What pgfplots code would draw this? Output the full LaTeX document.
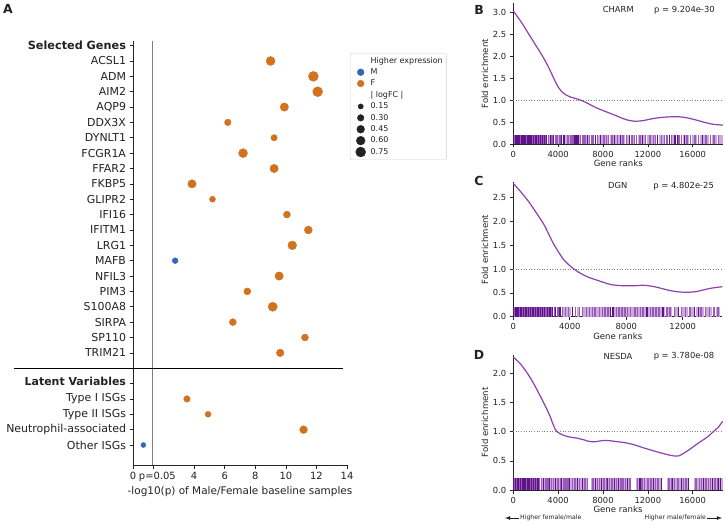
\documentclass[border=0pt]{standalone}
\usepackage{pgfplots}
\pgfplotsset{compat=1.18}
\usepackage{fontspec}
\setmainfont{DejaVu Sans}
\definecolor{mor}{HTML}{D2721F}
\definecolor{mbl}{HTML}{3465BA}
\definecolor{cur}{HTML}{8E3FB0}
\definecolor{rd}{HTML}{5E1487}
\definecolor{rm}{HTML}{9A5AB8}
\definecolor{rl}{HTML}{CDAADC}
\definecolor{txt}{HTML}{222222}
\tikzset{ann/.style={font=\fontsize{8.4}{9.6}\selectfont, text=txt}}
\begin{document}
\begin{tikzpicture}
\useasboundingbox (0,0) rectangle (726bp,525bp);
\pgfplotsset{
  every axis/.append style={scale only axis, /pgf/number format/assume math mode=true,
    tick align=outside, axis line style={black!85}, major tick length=3.5bp,
    tick style={black!85, line width=0.6bp}, clip=false, anchor=south west},
  rug/.style={ycomb, forget plot},
  fe/.style={axis x line*=bottom, axis y line*=left, ymin=0,
    ticklabel style={font=\fontsize{8.4}{9.6}\selectfont, text=txt},
    label style={font=\fontsize{8.6}{10}\selectfont, text=txt},
    xlabel={Gene ranks}, ylabel={Fold enrichment},
    scaled x ticks=false,
    xticklabel style={/pgf/number format/.cd, fixed, 1000 sep={}},
    yticklabel style={/pgf/number format/.cd, fixed, fixed zerofill, precision=1},
    xlabel style={yshift=4bp}, ylabel style={yshift=-2bp}},
  scat/.style={scatter, only marks, mark=*, forget plot,
    scatter/use mapped color={draw=#1, fill=#1},
    visualization depends on={\thisrow{r} \as \rr},
    scatter/@pre marker code/.append style={/tikz/mark size=\rr}},
}
\node[font=\bfseries\fontsize{12.5}{13}\selectfont, text=txt] at (8bp,516bp) {A};
\node[font=\bfseries\fontsize{12.5}{13}\selectfont, text=txt] at (479bp,515bp) {B};
\node[font=\bfseries\fontsize{12.5}{13}\selectfont, text=txt] at (479bp,344bp) {C};
\node[font=\bfseries\fontsize{12.5}{13}\selectfont, text=txt] at (479bp,170bp) {D};

% ---------------- Panel A ----------------
\begin{axis}[at={(133bp,60bp)}, width=214bp, height=424bp,
  axis x line*=bottom, axis y line*=left,
  xmin=0, xmax=14, ymin=-0.3, ymax=27.3, y dir=reverse,
  xtick={0,1.301,4,6,8,10,12,14}, xticklabels={0,\hspace*{9bp}p=0.05,4,6,8,10,12,14},
  ytick={0,1,...,20,22,23,24,25,26},
  yticklabels={{\bfseries\fontsize{11.3}{12}\selectfont Selected Genes},ACSL1,ADM,AIM2,AQP9,DDX3X,DYNLT1,FCGR1A,FFAR2,FKBP5,GLIPR2,IFI16,IFITM1,LRG1,MAFB,NFIL3,PIM3,S100A8,SIRPA,SP110,TRIM21,{\raisebox{5bp}{\bfseries\fontsize{11}{12}\selectfont Latent Variables}},Type I ISGs,Type II ISGs,Neutrophil-associated,Other ISGs},
  yticklabel style={font=\fontsize{11}{13}\selectfont, text=txt},
  xticklabel style={font=\fontsize{10}{12}\selectfont, text=txt},
  xlabel={-log10(p) of Male/Female baseline samples},
  xlabel style={font=\fontsize{10.5}{12}\selectfont, text=txt, yshift=2bp},
  legend style={at={(1.014,0.972)}, anchor=north west, draw=black!18, rounded corners=1.5bp,
    font=\fontsize{8}{8.5}\selectfont, text=txt, cells={anchor=west}, row sep=0pt, inner sep=2bp,
    /tikz/every odd column/.append style={column sep=3bp}},
]
\addplot[gray, line width=0.9bp, forget plot] coordinates {(1.301,-0.3) (1.301,27.3)};
\addplot[black, line width=0.9bp, forget plot] coordinates {(-7.76,21) (13.75,21)};
\addplot[scat=mor] table {
x y r
9.00 1 4.5
11.80 2 5.0
12.08 3 5.0
9.90 4 4.2
6.20 5 3.3
9.23 6 3.2
7.20 7 4.5
9.23 8 4.2
3.86 9 4.2
5.20 10 3.0
10.07 11 3.5
11.47 12 4.0
10.42 13 4.4
9.56 15 4.2
7.48 16 3.5
9.14 17 4.6
6.53 18 3.5
11.25 19 3.5
9.63 20 3.8
3.53 23 3.3
4.91 24 3.0
11.16 25 3.9
};
\addplot[scat=mbl] table {
x y r
2.76 14 2.9
0.68 26 2.5
};
\addlegendimage{empty legend}\addlegendentry{Higher expression}
\addlegendimage{only marks, mark=*, mark size=3.4, mbl}\addlegendentry{M}
\addlegendimage{only marks, mark=*, mark size=3.4, mor}\addlegendentry{F}
\addlegendimage{empty legend}\addlegendentry{| logFC |}
\addlegendimage{only marks, mark=*, mark size=2.6, txt}\addlegendentry{0.15}
\addlegendimage{only marks, mark=*, mark size=3.3, txt}\addlegendentry{0.30}
\addlegendimage{only marks, mark=*, mark size=3.9, txt}\addlegendentry{0.45}
\addlegendimage{only marks, mark=*, mark size=4.4, txt}\addlegendentry{0.60}
\addlegendimage{only marks, mark=*, mark size=5.0, txt}\addlegendentry{0.75}
\end{axis}

% ---------------- Panel B ----------------
\begin{axis}[fe, at={(513.3bp,381bp)}, width=210bp, height=140.5bp,
  xmin=0, xmax=18730, ymax=3.2, xtick={0,4000,8000,12000,16000}, ytick={0,0.5,...,3.0}]
\addplot[rug, rl, line width=2bp] coordinates {(3200,.2)(3500,.2)(4000,.2)(4700,.2)(5000,.2)(5950,.2)(6300,.2)(6500,.2)(6700,.2)(7600,.2)(7900,.2)(8200,.2)(8400,.2)(8700,.2)(8900,.2)(9200,.2)(9400,.2)(9700,.2)(9900,.2)(10200,.2)(10300,.2)(10700,.2)(11200,.2)(11400,.2)(11700,.2)(12000,.2)(12100,.2)(12400,.2)(12600,.2)(13100,.2)(13300,.2)(13400,.2)(14200,.2)(15200,.2)(15400,.2)(15600,.2)(16000,.2)(16100,.2)(16300,.2)(16700,.2)(17000,.2)(17400,.2)(17800,.2)(18100,.2)(18400,.2)(18600,.2)};
\addplot[rug, rm, line width=1.5bp] coordinates {(120,.2)(250,.2)(380,.2)(500,.2)(640,.2)(760,.2)(900,.2)(1030,.2)(1180,.2)(1330,.2)(1460,.2)(1590,.2)(1730,.2)(1880,.2)(2030,.2)(2170,.2)(2330,.2)(2500,.2)(2700,.2)(2900,.2)(3150,.2)(3450,.2)(3750,.2)(3900,.2)(4100,.2)(4200,.2)(4900,.2)(5100,.2)(5250,.2)(5400,.2)(6000,.2)(6200,.2)(6400,.2)(6800,.2)(7000,.2)(7100,.2)(7500,.2)(8100,.2)(8300,.2)(8500,.2)(8800,.2)(9300,.2)(9800,.2)(10100,.2)(10600,.2)(10800,.2)(11000,.2)(11300,.2)(11800,.2)(12200,.2)(12500,.2)(12700,.2)(13200,.2)(13500,.2)(13700,.2)(14100,.2)(14800,.2)(15000,.2)(15500,.2)(15800,.2)(16200,.2)(16500,.2)(17200,.2)(17600,.2)(17900,.2)(18300,.2)};
\addplot[rug, rd, line width=1.1bp] coordinates {(50,.2)(180,.2)(300,.2)(420,.2)(560,.2)(700,.2)(830,.2)(950,.2)(1100,.2)(1250,.2)(1400,.2)(1520,.2)(1650,.2)(1800,.2)(1950,.2)(2100,.2)(2250,.2)(2400,.2)(2600,.2)(2800,.2)(3000,.2)(3300,.2)(3600,.2)(4300,.2)(4450,.2)(4600,.2)(5500,.2)(5600,.2)(5700,.2)(5800,.2)(6600,.2)(7300,.2)(7800,.2)(9000,.2)(9600,.2)(10400,.2)(11500,.2)(12900,.2)(13900,.2)(14400,.2)(14500,.2)(14650,.2)(15300,.2)(16900,.2)};
\addplot[gray, dotted, line width=0.6bp, forget plot] coordinates {(0,1) (18730,1)};
\addplot[cur, line width=1.2bp, smooth, tension=0.55] coordinates {(0,3.03)(700,2.78)(1338,2.52)(2000,2.25)(2676,1.97)(3200,1.72)(3600,1.50)(4000,1.30)(4450,1.16)(5000,1.08)(5500,1.04)(6000,1.00)(6600,0.93)(7440,0.82)(8626,0.70)(9400,0.62)(10113,0.55)(10800,0.52)(11500,0.53)(12500,0.58)(13400,0.61)(14400,0.62)(15200,0.61)(16100,0.56)(16952,0.50)(17800,0.45)(18700,0.43)};
\node[ann] at (rel axis cs:0.50,0.955) {CHARM};
\node[ann] at (rel axis cs:0.815,0.955) {p = 9.204e-30};
\end{axis}

% ---------------- Panel C ----------------
\begin{axis}[fe, at={(513.3bp,208.3bp)}, width=209bp, height=134.2bp,
  xmin=0, xmax=14800, ymax=2.82, xtick={0,4000,8000,12000}, ytick={0,0.5,...,2.5}]
\addplot[rug, rl, line width=2bp] coordinates {(3600,.2)(3800,.2)(4000,.2)(4600,.2)(5000,.2)(5100,.2)(5300,.2)(5500,.2)(5700,.2)(5900,.2)(6000,.2)(6200,.2)(6400,.2)(6600,.2)(6800,.2)(7200,.2)(7400,.2)(7600,.2)(7800,.2)(8000,.2)(8200,.2)(8400,.2)(8500,.2)(8700,.2)(8900,.2)(9100,.2)(9300,.2)(9600,.2)(9800,.2)(10000,.2)(10200,.2)(10400,.2)(10500,.2)(10700,.2)(11000,.2)(11200,.2)(11500,.2)(11600,.2)(12000,.2)(12100,.2)(12300,.2)(12600,.2)(12700,.2)(13000,.2)(13200,.2)(13400,.2)(13700,.2)(13800,.2)(14000,.2)(14400,.2)(14600,.2)};
\addplot[rug, rm, line width=1.5bp] coordinates {(100,.2)(210,.2)(320,.2)(430,.2)(540,.2)(660,.2)(780,.2)(900,.2)(1020,.2)(1140,.2)(1270,.2)(1400,.2)(1530,.2)(1680,.2)(1830,.2)(1980,.2)(2130,.2)(2300,.2)(2500,.2)(2700,.2)(2900,.2)(3150,.2)(3500,.2)(3700,.2)(3900,.2)(4400,.2)(4700,.2)(4900,.2)(5200,.2)(5400,.2)(5600,.2)(5800,.2)(6100,.2)(6300,.2)(6500,.2)(6700,.2)(7300,.2)(7500,.2)(7700,.2)(7900,.2)(8100,.2)(8300,.2)(8600,.2)(8800,.2)(9000,.2)(9200,.2)(9700,.2)(9900,.2)(10100,.2)(10300,.2)(10900,.2)(11100,.2)(11400,.2)(11900,.2)(12200,.2)(12500,.2)(13300,.2)(13600,.2)(13900,.2)(14200,.2)(14500,.2)};
\addplot[rug, rd, line width=1.1bp] coordinates {(40,.2)(150,.2)(260,.2)(370,.2)(480,.2)(600,.2)(720,.2)(840,.2)(960,.2)(1080,.2)(1200,.2)(1330,.2)(1460,.2)(1600,.2)(1750,.2)(1900,.2)(2050,.2)(2200,.2)(2400,.2)(2600,.2)(2800,.2)(3000,.2)(3300,.2)(3350,.2)(4200,.2)(6900,.2)(7000,.2)(7100,.2)(9400,.2)(9500,.2)(10600,.2)(11700,.2)(12800,.2)(13100,.2)};
\addplot[gray, dotted, line width=0.6bp, forget plot] coordinates {(0,1) (14800,1)};
\addplot[cur, line width=1.2bp, smooth, tension=0.55] coordinates {(0,2.80)(600,2.60)(1180,2.38)(1700,2.15)(2125,1.96)(2500,1.74)(2833,1.54)(3200,1.36)(3541,1.21)(3900,1.10)(4249,1.01)(4600,0.94)(4957,0.88)(5400,0.82)(5901,0.77)(6400,0.72)(6846,0.68)(7300,0.66)(7790,0.65)(8500,0.65)(9206,0.66)(9700,0.645)(10150,0.62)(10600,0.585)(11095,0.55)(11600,0.525)(12039,0.515)(12500,0.515)(12983,0.53)(13500,0.565)(13928,0.595)(14400,0.615)(14800,0.63)};
\node[ann] at (rel axis cs:0.50,0.975) {DGN};
\node[ann] at (rel axis cs:0.815,0.975) {p = 4.802e-25};
\end{axis}

% ---------------- Panel D ----------------
\begin{axis}[fe, at={(513.3bp,35bp)}, width=209.4bp, height=135.3bp,
  xmin=0, xmax=18680, ymax=2.32, xtick={0,4000,8000,12000,16000}, ytick={0,0.5,...,2.0}]
\addplot[rug, rl, line width=2bp] coordinates {(2600,.2)(2800,.2)(3000,.2)(3300,.2)(3500,.2)(3700,.2)(3900,.2)(4100,.2)(4400,.2)(4600,.2)(4800,.2)(5100,.2)(5200,.2)(5400,.2)(5600,.2)(5800,.2)(6000,.2)(6100,.2)(6300,.2)(6500,.2)(7000,.2)(7200,.2)(7400,.2)(7600,.2)(7800,.2)(8000,.2)(8200,.2)(8500,.2)(8700,.2)(8900,.2)(9100,.2)(9300,.2)(9500,.2)(9700,.2)(9900,.2)(10100,.2)(10300,.2)(11000,.2)(11200,.2)(11400,.2)(11600,.2)(11800,.2)(12100,.2)(12200,.2)(12400,.2)(12600,.2)(12800,.2)(13000,.2)(13100,.2)(13800,.2)(14000,.2)(14300,.2)(14500,.2)(14600,.2)(14800,.2)(14900,.2)(15100,.2)(15300,.2)(15500,.2)(16200,.2)(16400,.2)(16500,.2)(16700,.2)(16900,.2)(17100,.2)(17300,.2)(17500,.2)(17700,.2)(17900,.2)(18100,.2)(18400,.2)(18600,.2)};
\addplot[rug, rm, line width=1.5bp] coordinates {(120,.2)(270,.2)(420,.2)(570,.2)(720,.2)(870,.2)(1020,.2)(1170,.2)(1330,.2)(1500,.2)(1700,.2)(1900,.2)(2100,.2)(2350,.2)(2500,.2)(2900,.2)(3100,.2)(3400,.2)(3600,.2)(4000,.2)(4200,.2)(4500,.2)(4700,.2)(4900,.2)(5300,.2)(5500,.2)(5900,.2)(6400,.2)(6600,.2)(7100,.2)(7500,.2)(7700,.2)(8100,.2)(8300,.2)(8600,.2)(8800,.2)(9200,.2)(9600,.2)(9800,.2)(10000,.2)(10400,.2)(11100,.2)(11500,.2)(11700,.2)(12000,.2)(12300,.2)(12700,.2)(12900,.2)(13900,.2)(14100,.2)(14400,.2)(14700,.2)(15200,.2)(15400,.2)(16300,.2)(16600,.2)(16800,.2)(17200,.2)(17400,.2)(17600,.2)(18000,.2)(18200,.2)};
\addplot[rug, rd, line width=1.1bp] coordinates {(50,.2)(200,.2)(350,.2)(500,.2)(650,.2)(800,.2)(950,.2)(1100,.2)(1250,.2)(1400,.2)(1600,.2)(1800,.2)(2000,.2)(2200,.2)(2700,.2)(3200,.2)(3800,.2)(4300,.2)(5000,.2)(5700,.2)(6200,.2)(7300,.2)(7900,.2)(8400,.2)(9000,.2)(9400,.2)(10200,.2)(11300,.2)(12500,.2)(13200,.2)(14200,.2)(15000,.2)(15600,.2)(17000,.2)(17800,.2)(18300,.2)(18500,.2)};
\addplot[gray, dotted, line width=0.6bp, forget plot] coordinates {(0,1) (18680,1)};
\addplot[cur, line width=1.2bp, smooth, tension=0.55] coordinates {(0,2.28)(600,2.17)(1190,2.02)(1800,1.83)(2378,1.62)(2850,1.44)(3270,1.27)(3600,1.10)(3900,1.00)(4459,0.94)(5000,0.91)(5648,0.89)(6300,0.86)(6837,0.83)(7400,0.83)(8026,0.85)(8600,0.845)(9216,0.83)(10000,0.81)(10702,0.78)(11500,0.73)(12188,0.69)(13000,0.645)(13675,0.61)(14300,0.585)(14750,0.585)(15200,0.63)(15756,0.70)(16400,0.79)(16945,0.86)(17450,0.93)(17837,1.0)(18300,1.08)(18680,1.18)};
\node[ann] at (rel axis cs:0.50,0.985) {NESDA};
\node[ann] at (rel axis cs:0.815,0.985) {p = 3.780e-08};
\end{axis}

% arrows under D
\draw[-latex, line width=0.8bp, txt] (519bp,7bp) -- (505bp,7bp);
\node[anchor=west, font=\fontsize{6.2}{7}\selectfont, text=txt, inner sep=1bp] at (519bp,7.5bp) {Higher female/male};
\draw[-latex, line width=0.8bp, txt] (707bp,7bp) -- (722bp,7bp);
\node[anchor=east, font=\fontsize{6.2}{7}\selectfont, text=txt, inner sep=1bp] at (707bp,7.5bp) {Higher male/female};
\end{tikzpicture}
\end{document}
